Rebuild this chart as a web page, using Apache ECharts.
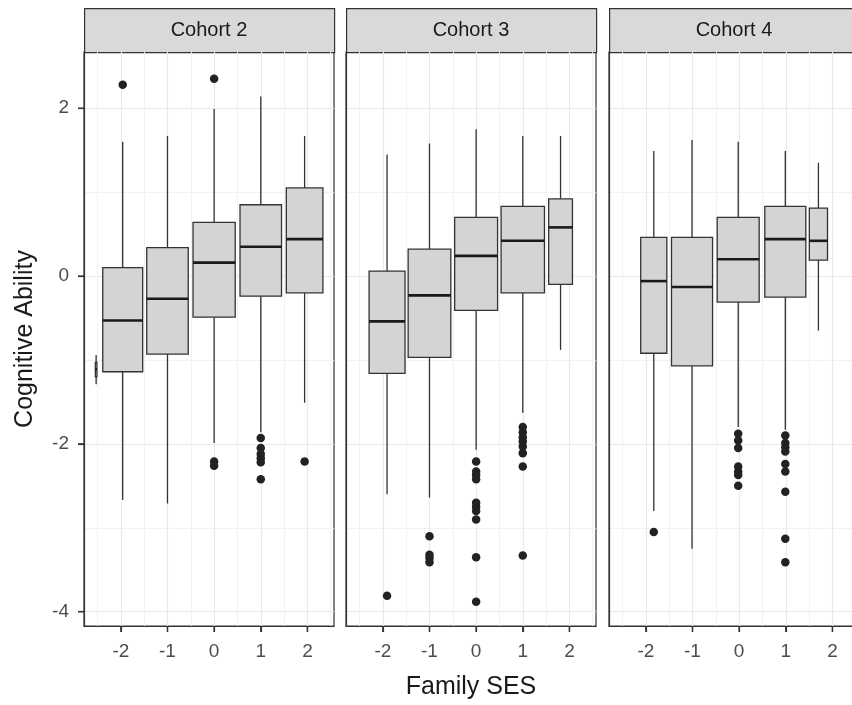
<!DOCTYPE html>
<html><head><meta charset="utf-8">
<script src="https://cdn.jsdelivr.net/npm/echarts@6/dist/echarts.min.js"></script>
<style>html,body{margin:0;padding:0;background:#fff}#c{width:852px;height:705px}</style>
</head><body><div id="c"></div>
<script>
// ---------------- data ----------------
const cohorts = ['Cohort 2', 'Cohort 3', 'Cohort 4'];
const sesTicks = [-2, -1, 0, 1, 2];
const sesMinorTicks = [-2.5, -1.5, -0.5, 0.5, 1.5, 2.5];
const abilityTicks = [-4, -2, 0, 2];
const abilityMinorTicks = [-3, -1, 1];

// Cohort 2: group centre (mean SES), group size, lower whisker, Q1, median, Q3, upper whisker
const c2Ses  = [-2.53, -1.96, -1.00, 0.00, 1.00, 1.94];
const c2N    = [2, 1271, 1374, 1420, 1374, 1068];
const c2Low  = [-1.29, -2.67, -2.71, -1.99, -1.86, -1.51];
const c2Q1   = [-1.20, -1.14, -0.93, -0.49, -0.24, -0.20];
const c2Med  = [-1.11, -0.53, -0.27, 0.16, 0.35, 0.44];
const c2Q3   = [-1.03, 0.10, 0.34, 0.64, 0.85, 1.05];
const c2High = [-0.94, 1.60, 1.67, 1.99, 2.14, 1.67];
const c2Outliers = [[-1.96, 2.28], [0.00, 2.35], [0.00, -2.21], [0.00, -2.26],
  [1.00, -1.93], [1.00, -2.05], [1.00, -2.12], [1.00, -2.17], [1.00, -2.22], [1.00, -2.42],
  [1.94, -2.21]];

// Cohort 3
const c3Ses  = [-1.91, -1.00, 0.00, 1.00, 1.81];
const c3N    = [1029, 1452, 1468, 1500, 451];
const c3Low  = [-2.60, -2.64, -2.07, -1.63, -0.88];
const c3Q1   = [-1.16, -0.97, -0.41, -0.20, -0.10];
const c3Med  = [-0.54, -0.23, 0.24, 0.42, 0.58];
const c3Q3   = [0.06, 0.32, 0.70, 0.83, 0.92];
const c3High = [1.45, 1.58, 1.75, 1.67, 1.67];
const c3Outliers = [[-1.91, -3.81],
  [-1.00, -3.10], [-1.00, -3.32], [-1.00, -3.36], [-1.00, -3.41],
  [0.00, -2.21], [0.00, -2.33], [0.00, -2.37], [0.00, -2.42], [0.00, -2.70], [0.00, -2.75],
  [0.00, -2.80], [0.00, -2.90], [0.00, -3.35], [0.00, -3.88],
  [1.00, -1.80], [1.00, -1.86], [1.00, -1.92], [1.00, -1.97], [1.00, -2.03], [1.00, -2.11],
  [1.00, -2.27], [1.00, -3.33]];

// Cohort 4
const c4Ses  = [-1.83, -1.01, -0.02, 0.99, 1.70];
const c4N    = [544, 1343, 1405, 1343, 264];
const c4Low  = [-2.80, -3.25, -1.80, -1.83, -0.65];
const c4Q1   = [-0.92, -1.07, -0.31, -0.25, 0.19];
const c4Med  = [-0.06, -0.13, 0.20, 0.44, 0.42];
const c4Q3   = [0.46, 0.46, 0.70, 0.83, 0.81];
const c4High = [1.49, 1.62, 1.60, 1.49, 1.35];
const c4Outliers = [[-1.83, -3.05],
  [-0.02, -1.88], [-0.02, -1.96], [-0.02, -2.05], [-0.02, -2.27], [-0.02, -2.33], [-0.02, -2.37], [-0.02, -2.50],
  [0.99, -1.90], [0.99, -1.99], [0.99, -2.04], [0.99, -2.09], [0.99, -2.24], [0.99, -2.33],
  [0.99, -2.57], [0.99, -3.13], [0.99, -3.41]];

// ---------------- layout / style ----------------
const X_MIN = -2.79, X_MAX = 2.57, Y_MIN = -4.17, Y_MAX = 2.67;
const PANEL_LEFT = [84, 346, 609];
const PANEL_W = 250, PANEL_TOP = 52, PANEL_BOTTOM = 79, STRIP_TOP = 8;
const MAX_BOX_W = 0.93;
const TICK_LEN = 6;
const FONT = '"Liberation Sans", Arial, Helvetica, sans-serif';
const EDGE = {show: true, onZero: false, lineStyle: {color: '#333', width: 1.2}};

const groups = [
  {ses: c2Ses, n: c2N, low: c2Low, q1: c2Q1, med: c2Med, q3: c2Q3, high: c2High, out: c2Outliers},
  {ses: c3Ses, n: c3N, low: c3Low, q1: c3Q1, med: c3Med, q3: c3Q3, high: c3High, out: c3Outliers},
  {ses: c4Ses, n: c4N, low: c4Low, q1: c4Q1, med: c4Med, q3: c4Q3, high: c4High, out: c4Outliers}
];
const maxN = Math.max(...groups.flatMap(g => g.n));

function renderBox(params, api) {
  const x = api.value(0), w = api.value(1);
  const lo = api.value(2), q1 = api.value(3), md = api.value(4), q3 = api.value(5), hi = api.value(6);
  const tl = api.coord([x - w / 2, q3]);
  const br = api.coord([x + w / 2, q1]);
  const pHi = api.coord([x, hi]), pLo = api.coord([x, lo]);
  const pQ3 = api.coord([x, q3]), pQ1 = api.coord([x, q1]), pMd = api.coord([x, md]);
  const st = {stroke: '#333', lineWidth: 1.3};
  return {type: 'group', children: [
    {type: 'line', shape: {x1: pHi[0], y1: pHi[1], x2: pQ3[0], y2: pQ3[1]}, style: st},
    {type: 'line', shape: {x1: pQ1[0], y1: pQ1[1], x2: pLo[0], y2: pLo[1]}, style: st},
    {type: 'rect', shape: {x: tl[0], y: tl[1], width: br[0] - tl[0], height: br[1] - tl[1]},
      style: {fill: '#d4d4d4', stroke: '#333', lineWidth: 1.3}},
    {type: 'line', shape: {x1: tl[0], y1: pMd[1], x2: br[0], y2: pMd[1]},
      style: {stroke: '#1a1a1a', lineWidth: 2.6}}
  ]};
}
// tick marks, drawn through the axis scale just outside the panel edge
function renderTick(params, api) {
  const p = api.coord([api.value(0), api.value(1)]);
  const isY = api.value(2) === 1;
  return {type: 'line', z2: 100,
    shape: isY ? {x1: p[0], y1: p[1], x2: p[0] - TICK_LEN, y2: p[1]}
               : {x1: p[0], y1: p[1], x2: p[0], y2: p[1] + TICK_LEN},
    style: {stroke: '#333', lineWidth: 1.4}};
}

const grid = [], xAxis = [], yAxis = [], series = [], graphic = [];
cohorts.forEach((name, i) => {
  grid.push({left: PANEL_LEFT[i], width: PANEL_W, top: PANEL_TOP, bottom: PANEL_BOTTOM,
    outerBoundsMode: 'none', containLabel: false,
    show: true, backgroundColor: '#fff', borderColor: '#333', borderWidth: 1.2});
  xAxis.push({gridIndex: i, type: 'value', min: X_MIN, max: X_MAX, position: 'bottom',
    axisLine: EDGE,
    axisTick: {show: true, inside: false, customValues: sesTicks, length: TICK_LEN, lineStyle: {color: '#333', width: 1.2}},
    axisLabel: {customValues: sesTicks, color: '#4d4d4d', fontSize: 19, fontFamily: FONT, margin: 16},
    splitLine: {show: true, lineStyle: {color: '#e9e9e9', width: 1.2}},
    name: i === 1 ? 'Family SES' : '', nameLocation: 'middle', nameGap: 49,
    nameTextStyle: {color: '#1a1a1a', fontSize: 25, fontFamily: FONT}});
  xAxis.push({gridIndex: i, type: 'value', min: X_MIN, max: X_MAX, position: 'top',
    axisLine: {show: false, onZero: false}, axisTick: {show: false, customValues: sesMinorTicks},
    axisLabel: {show: false}, splitLine: {show: true, lineStyle: {color: '#f1f1f1', width: 0.9}}});
  yAxis.push({gridIndex: i, type: 'value', min: Y_MIN, max: Y_MAX, position: 'left',
    axisLine: EDGE,
    axisTick: {show: i === 0, inside: false, customValues: abilityTicks, length: TICK_LEN, lineStyle: {color: '#333', width: 1.2}},
    axisLabel: {show: i === 0, customValues: abilityTicks, color: '#4d4d4d', fontSize: 19, fontFamily: FONT, margin: 15},
    splitLine: {show: true, lineStyle: {color: '#e9e9e9', width: 1.2}},
    name: i === 0 ? 'Cognitive Ability' : '', nameLocation: 'middle', nameGap: 46, nameRotate: 90,
    nameTextStyle: {color: '#1a1a1a', fontSize: 25, fontFamily: FONT}});
  yAxis.push({gridIndex: i, type: 'value', min: Y_MIN, max: Y_MAX, position: 'right',
    axisLine: {show: false, onZero: false}, axisTick: {show: false, customValues: abilityMinorTicks},
    axisLabel: {show: false}, splitLine: {show: true, lineStyle: {color: '#f1f1f1', width: 0.9}}});

  const g = groups[i];
  const boxData = g.ses.map((s, k) => [s, MAX_BOX_W * Math.sqrt(g.n[k] / maxN),
    g.low[k], g.q1[k], g.med[k], g.q3[k], g.high[k]]);
  series.push({type: 'custom', xAxisIndex: 2 * i, yAxisIndex: 2 * i, renderItem: renderBox,
    encode: {x: 0, y: [2, 3, 4, 5, 6]}, data: boxData, z: 3, silent: true});
  series.push({type: 'scatter', xAxisIndex: 2 * i, yAxisIndex: 2 * i, data: g.out,
    symbolSize: 8.5, itemStyle: {color: '#222', opacity: 1}, z: 4, silent: true});

  const tickData = sesTicks.map(v => [v, Y_MIN, 0]);
  if (i === 0) abilityTicks.forEach(v => tickData.push([X_MIN, v, 1]));
  series.push({type: 'custom', xAxisIndex: 2 * i, yAxisIndex: 2 * i, renderItem: renderTick,
    clip: false, encode: {x: 0, y: 1}, data: tickData, z: 20, silent: true});

  graphic.push({type: 'rect', left: PANEL_LEFT[i], top: STRIP_TOP,
    shape: {width: PANEL_W, height: PANEL_TOP - STRIP_TOP},
    style: {fill: '#d9d9d9', stroke: '#333', lineWidth: 1.2}});
  graphic.push({type: 'text', x: PANEL_LEFT[i] + PANEL_W / 2, y: (STRIP_TOP + PANEL_TOP) / 2,
    style: {text: name, fill: '#1a1a1a', fontSize: 20, fontFamily: FONT,
      textAlign: 'center', textVerticalAlign: 'middle'}});
});

const chart = echarts.init(document.getElementById('c'), null, {renderer: 'canvas'});
chart.setOption({backgroundColor: '#fff', animation: false, grid, xAxis, yAxis, series, graphic});
</script></body></html>
